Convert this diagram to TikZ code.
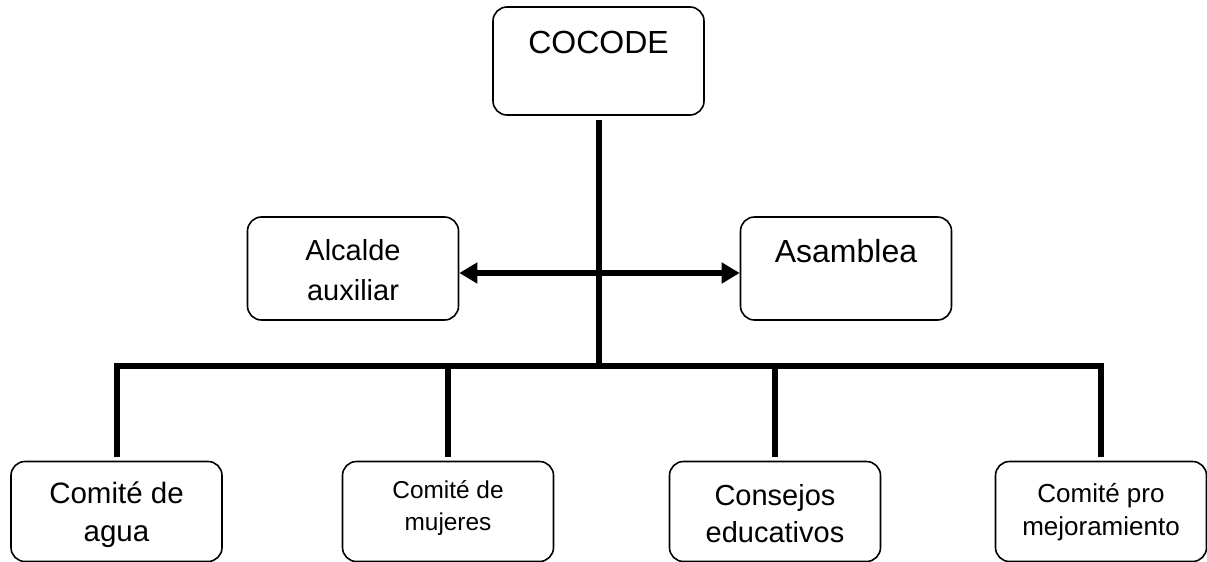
\documentclass[tikz,border=0pt]{standalone}
\usepackage{fontspec}
\setmainfont{Liberation Sans}
\usepackage{tikz}
\usetikzlibrary{arrows.meta}
\newcommand{\boxfont}[2]{\fontsize{#1}{#2}\selectfont}
\tikzset{
  box/.style={draw, rounded corners=14pt, line width=1.6pt, align=center, inner sep=0pt, minimum width=211pt, text depth=0pt},
  link/.style={line width=6pt, shorten <=4pt, shorten >=4pt},
  >={Triangle[length=18pt, width=20pt]},
}

\begin{document}
\begin{tikzpicture}[x=1pt,y=-1pt]
            \useasboundingbox (0,0) rectangle (1207,562);
            \node[box, minimum height=108pt, text height=23pt, text depth=39pt, font=\boxfont{32}{38}] (cocode) at (598.5,61) {COCODE};
            \node[box, minimum height=103pt, text height=63pt, font=\boxfont{29}{40}] (alcalde) at (353,268.5) {Alcalde\\auxiliar};
            \node[box, minimum height=103pt, text height=0pt, text depth=13pt, font=\boxfont{32}{38}] (asamblea) at (846,268.5) {Asamblea};
            \node[box, minimum height=100pt, text height=60pt, font=\boxfont{29.5}{38}] (agua) at (116.5,511.5) {Comité de\\agua};
            \node[box, minimum height=100pt, text height=38pt, font=\boxfont{24.4}{32}] (mujeres) at (448,511.5) {Comité de\\mujeres};
            \node[box, minimum height=100pt, text height=62pt, font=\boxfont{29}{37}] (consejos) at (775,511.5) {Consejos\\educativos};
            \node[box, minimum height=100pt, text height=48pt, font=\boxfont{26}{33}] (mejora) at (1101,511.5) {Comité pro\\mejoramiento};
            \coordinate (bar) at (600,366);
            \draw[link, shorten >=0pt] (cocode) -- (cocode |- bar);
            \draw[link] (agua) -- (agua |- bar) -- (mejora |- bar) -- (mejora);
            \foreach \n in {mujeres,consejos}
                \draw[link, shorten <=0pt] (\n |- bar) -- (\n);
            \draw[link, <->, shorten <=0pt, shorten >=0pt] ([yshift=-4.5pt]alcalde.east) -- ([yshift=-4.5pt]asamblea.west);% both ways
        \end{tikzpicture}
\end{document}
